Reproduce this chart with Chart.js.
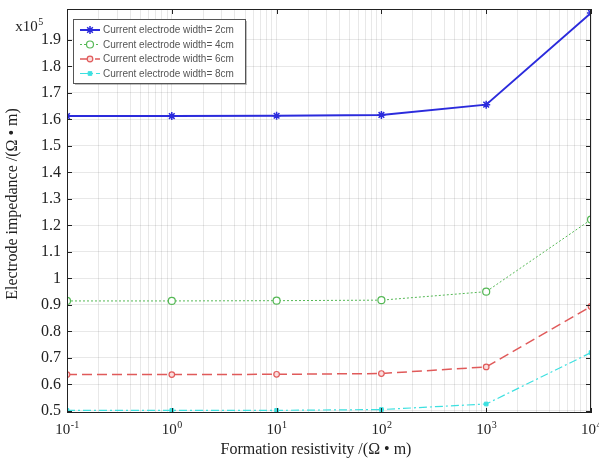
<!DOCTYPE html>
<html>
<head>
<meta charset="utf-8">
<script src="https://cdn.jsdelivr.net/npm/chart.js@4.4.0/dist/chart.umd.min.js"></script>
<style>
  html, body { margin: 0; padding: 0; background: #fff; }
  #wrap { width: 599px; height: 458px; }
</style>
</head>
<body>
<div id="wrap"><canvas id="impChart" width="599" height="458"></canvas></div>
<script>
// formation resistivity (ohm*m)
const resistivity = [0.1, 1, 10, 100, 1000, 10000];
// electrode impedance, x10^5 ohm*m
const width2cm = [1.613, 1.613, 1.614, 1.617, 1.656, 2.002];
const width4cm = [0.915, 0.915, 0.916, 0.918, 0.950, 1.222];
const width6cm = [0.637, 0.637, 0.638, 0.641, 0.666, 0.894];
const width8cm = [0.502, 0.502, 0.502, 0.505, 0.526, 0.720];
const seriesNames = ["Current electrode width= 2cm", "Current electrode width= 4cm",
  "Current electrode width= 6cm", "Current electrode width= 8cm"];
const yTicks = [0.5, 0.6, 0.7, 0.8, 0.9, 1.0, 1.1, 1.2, 1.3, 1.4, 1.5, 1.6, 1.7, 1.8, 1.9];
const xDecades = [-1, 0, 1, 2, 3, 4];

function toPts(arr) {
  return arr.map((v, i) => ({ x: resistivity[i], y: v }));
}

const serif = "'Liberation Serif', 'Times New Roman', serif";

// base-10 label with a raised exponent, centred on x
function drawPow(ctx, base, exp, x, y, size) {
  ctx.font = size + "px " + serif;
  const wb = ctx.measureText(base).width;
  ctx.font = Math.round(size * 0.68) + "px " + serif;
  const we = ctx.measureText(exp).width;
  const x0 = x - (wb + we) / 2;
  ctx.textAlign = "left";
  ctx.textBaseline = "alphabetic";
  ctx.font = size + "px " + serif;
  ctx.fillText(base, x0, y);
  ctx.font = Math.round(size * 0.68) + "px " + serif;
  ctx.fillText(exp, x0 + wb + 0.5, y - size * 0.38);
}

// box, inward ticks, x labels, axis titles, legend
const framePlugin = {
  id: "frame",
  afterDraw(chart) {
    const ctx = chart.ctx;
    const a = chart.chartArea;
    const xs = chart.scales.x, ys = chart.scales.y;
    ctx.save();
    ctx.strokeStyle = "#222";
    ctx.lineWidth = 1;
    ctx.strokeRect(a.left + 0.5, a.top + 0.5, a.right - a.left - 1, a.bottom - a.top - 1);
    ctx.beginPath();
    xDecades.forEach(d => {
      const px = Math.round(xs.getPixelForValue(Math.pow(10, d))) + 0.5;
      ctx.moveTo(px, a.bottom); ctx.lineTo(px, a.bottom - 5);
      ctx.moveTo(px, a.top); ctx.lineTo(px, a.top + 5);
    });
    yTicks.forEach(v => {
      const py = Math.round(ys.getPixelForValue(v)) + 0.5;
      ctx.moveTo(a.left, py); ctx.lineTo(a.left + 5, py);
      ctx.moveTo(a.right, py); ctx.lineTo(a.right - 5, py);
    });
    ctx.stroke();

    ctx.fillStyle = "#222";
    xDecades.forEach(d => {
      const px = xs.getPixelForValue(Math.pow(10, d));
      drawPow(ctx, "10", d === -1 ? "-1" : String(d), px, 434, 15);
    });

    // titles
    ctx.font = "16px " + serif;
    ctx.textAlign = "center";
    ctx.textBaseline = "middle";
    ctx.fillText("Formation resistivity /(\u03A9 \u2022 m)", 316, 450);
    ctx.save();
    ctx.translate(13, 204);
    ctx.rotate(-Math.PI / 2);
    ctx.fillText("Electrode impedance /(\u03A9 \u2022 m)", 0, 0);
    ctx.restore();
    drawPow(ctx, "x10", "5", 29, 31, 15);

    // legend
    const lx = 73, ly = 19, lw = 172, lh = 64;
    ctx.fillStyle = "rgba(0,0,0,0.25)";
    ctx.fillRect(lx + 2, ly + 2, lw, lh);
    ctx.fillStyle = "#fff";
    ctx.fillRect(lx, ly, lw, lh);
    ctx.strokeStyle = "#555";
    ctx.strokeRect(lx + 0.5, ly + 0.5, lw, lh);
    ctx.textAlign = "left";
    ctx.textBaseline = "middle";
    chart.data.datasets.forEach((ds, i) => {
      const ry = ly + 11 + i * 14.5;
      ctx.strokeStyle = ds.borderColor;
      ctx.lineWidth = ds.borderWidth;
      ctx.setLineDash(ds.borderDash || []);
      ctx.beginPath();
      ctx.moveTo(80, ry); ctx.lineTo(100, ry);
      ctx.stroke();
      ctx.setLineDash([]);
      ctx.lineWidth = ds.pointBorderWidth;
      ctx.fillStyle = ds.pointBackgroundColor;
      ctx.strokeStyle = ds.borderColor;
      Chart.helpers.drawPoint(ctx, {
        pointStyle: ds.pointStyle, radius: ds.pointRadius, rotation: 0, borderWidth: ds.pointBorderWidth
      }, 90, ry);
      ctx.font = "10px 'Liberation Sans', Arial, sans-serif";
      ctx.fillStyle = "#555";
      ctx.fillText(seriesNames[i], 103, ry + 0.5);
    });
    ctx.restore();
  }
};

new Chart(document.getElementById("impChart"), {
  type: "line",
  data: {
    datasets: [
      {
        data: toPts(width2cm), borderColor: "#2b2bdc", borderWidth: 2,
        pointStyle: "star", pointRadius: 4, pointBorderWidth: 1.5,
        pointBackgroundColor: "#2b2bdc"
      },
      {
        data: toPts(width4cm), borderColor: "#55b855", borderWidth: 1,
        borderDash: [2, 2], pointStyle: "circle", pointRadius: 3.5,
        pointBorderWidth: 1.2, pointBackgroundColor: "#fff"
      },
      {
        data: toPts(width6cm), borderColor: "#e05a5a", borderWidth: 1.5,
        borderDash: [10, 5], pointStyle: "circle", pointRadius: 2.8,
        pointBorderWidth: 1.2, pointBackgroundColor: "#fbdcdc"
      },
      {
        data: toPts(width8cm), borderColor: "#3de0e0", borderWidth: 1.2,
        borderDash: [8, 3, 2, 3], pointStyle: "rect", pointRadius: 2.6,
        pointBorderWidth: 1, pointBackgroundColor: "#3de0e0"
      }
    ]
  },
  options: {
    responsive: false,
    animation: false,
    layout: { padding: { left: 0, right: 8, top: 9, bottom: 0 } },
    plugins: { legend: { display: false }, tooltip: { enabled: false } },
    scales: {
      x: {
        type: "logarithmic",
        min: 0.1,
        max: 10000,
        afterBuildTicks(scale) {
          const t = [];
          for (let d = -1; d < 4; d++) {
            for (let m = 1; m < 10; m++) t.push({ value: m * Math.pow(10, d) });
          }
          t.push({ value: 10000 });
          scale.ticks = t;
        },
        afterFit(scale) {
          scale.height = 45;
          scale.paddingLeft = 0; scale.paddingRight = 0;
        },
        grid: { color: "rgba(0,0,0,0.09)", drawTicks: false },
        border: { display: false },
        ticks: { display: false, autoSkip: false }
      },
      y: {
        min: 0.492,
        max: 2.017,
        afterBuildTicks(scale) { scale.ticks = yTicks.map(v => ({ value: v })); },
        afterFit(scale) {
          scale.width = 67;
          scale.paddingTop = 0; scale.paddingBottom = 0;
        },
        grid: { color: "rgba(0,0,0,0.09)", drawTicks: false },
        border: { display: false },
        ticks: {
          padding: 6, color: "#222", font: { family: serif, size: 16 },
          callback(value) { return Math.abs(value - 1) < 1e-9 ? "1" : value.toFixed(1); }
        }
      }
    }
  },
  plugins: [framePlugin]
});
</script>
</body>
</html>
